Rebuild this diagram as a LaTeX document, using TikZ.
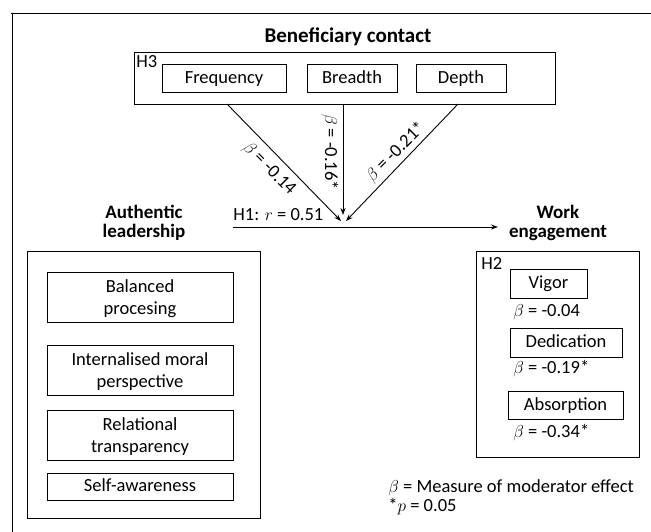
\documentclass[tikz,border=0pt]{standalone}
\usepackage{fontspec}
\setmainfont{Carlito}
\usetikzlibrary{arrows.meta}

\begin{document}
\begin{tikzpicture}[x=1pt,y=-1pt,line width=0.9pt,>={Stealth[length=7pt,width=5pt]},
	font=\fontsize{18.5}{22}\selectfont,
	dimbox/.style={draw,align=center,inner sep=0pt},
	onebox/.style={dimbox,text height=14pt,text depth=3.5pt},
	lbl/.style={inner sep=0pt,anchor=west}]
		\useasboundingbox (0,0) rectangle (651,532);
		\draw (11,13) -- (651,13);
		\draw (12,13) -- (12,532);
		
		% moderator
		\node[font=\fontsize{21}{24}\selectfont\bfseries] at (348,37) (bctitle) {Beneficiary contact};
		\node[dimbox,minimum width=421,minimum height=52] at (344.5,78) (bc) {};
		\node[lbl] at (136,62) (h3) {H3};
		\node[onebox,minimum width=124,minimum height=28] at (224,78) (freq) {Frequency};
		\node[onebox,minimum width=90,minimum height=28] at (352,78) (breadth) {Breadth};
		\node[onebox,minimum width=90,minimum height=28] at (461,78) (depth) {Depth};
		
		% independent variable
		\node[align=center,font=\fontsize{19}{19}\selectfont\bfseries] at (144,223) (altitle) {Authentic\\leadership};
		\node[dimbox,minimum width=186,minimum height=50,text depth=0pt] at (140,297) (balanced) {Balanced\\procesing};
		\node[dimbox,minimum width=233,minimum height=267] at (143.5,384.5) (al) {};
		\node[dimbox,minimum width=186,minimum height=50,text depth=0pt] at (140,370) (moral) {Internalised moral\\perspective};
		\node[dimbox,minimum width=186,minimum height=50,text depth=0pt] at (140,435) (relational) {Relational\\transparency};
		\node[onebox,minimum width=186,minimum height=27] at (140,486.5) (selfaw) {Self-awareness};
		
		% dependent variable
		\node[align=center,font=\fontsize{19}{19}\selectfont\bfseries] at (558,223) (wetitle) {Work\\engagement};
		\node[dimbox,minimum width=163,minimum height=206] at (557.5,354) (we) {};
		\node[lbl] at (481,263) (h2) {H2};
		\node[onebox,minimum width=77,minimum height=29] at (548.5,283.5) (vigor) {Vigor};
		\node[lbl] at (513,312) (bvigor) {$\beta$ = -0.04};
		\node[onebox,minimum width=112,minimum height=29] at (566,342.5) (dedication) {Dedication};
		\node[lbl] at (513,369) (bdedication) {$\beta$ = -0.19*};
		\node[onebox,minimum width=115,minimum height=28] at (565.5,405) (absorption) {Absorption};
		\node[lbl] at (513,433) (babsorption) {$\beta$ = -0.34*};
		
		% main path and moderation
		\coordinate (h1start) at (233,227);
		\coordinate (h1end) at (498,227);
		\draw[->] (h1start) -- (h1end);
		\node[lbl] at (233,215) (h1) {H1: $r$ = 0.51};
		
		\coordinate (freqout) at (227,104);
		\coordinate (breadthout) at (343,104);
		\coordinate (depthout) at (458,104);
		\coordinate (freqin) at (341,221);
		\coordinate (breadthin) at (343,215);
		\coordinate (depthin) at (346,221);
		\draw[->] (freqout) -- (freqin);
		\draw[->] (breadthout) -- (breadthin);
		\draw[->] (depthout) -- (depthin);
		\node[inner sep=0pt,rotate=-45] at (269,169) (bfreq) {$\beta$ = -0.14};
		\node[inner sep=0pt,rotate=-90] at (330,152) (bbreadth) {$\beta$ = -0.16*};
		\node[inner sep=0pt,rotate=45] at (396,152) (bdepth) {$\beta$ = -0.21*};
		
		% legend
		\node[lbl] at (388,488) (legbeta) {$\beta$ = Measure of moderator effect};
		\node[lbl] at (388,507) (legp) {*$p$ = 0.05};
	\end{tikzpicture}
\end{document}
